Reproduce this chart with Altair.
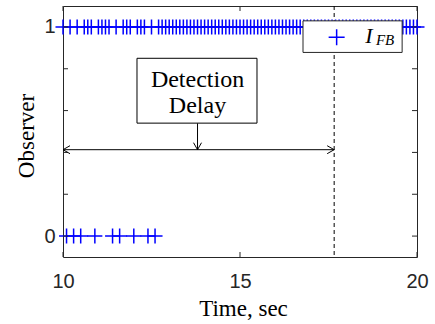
import altair as alt
import pandas as pd

# ---------------- data ----------------
T_START = 10.0          # first sample, sec
T_STEP = 0.1            # sampling period, sec
# observer output, one row per second (10 samples each), plus the sample at t = 20
OBSERVER_ROWS = [
    "1010101110",   # 10.0 - 10.9
    "1111010111",   # 11.0 - 11.9
    "0111010111",   # 12.0 - 12.9
    "1111111111",   # 13
    "1111111111",   # 14
    "1111111111",   # 15
    "1111111111",   # 16
    "1111111111",   # 17
    "1111111111",   # 18
    "1111111111",   # 19
    "1",            # 20.0
]
observer = [int(c) for c in "".join(OBSERVER_ROWS)]
times = [round(T_START + T_STEP * i, 1) for i in range(len(observer))]

X_TICKS = [10, 15, 20]
X_LABELS = [10, 15, 20]
Y_TICKS = [0, 0.2, 0.4, 0.6, 0.8, 1.0]
Y_LABELS = [0, 1]
X_DOMAIN = [10, 20]
Y_DOMAIN = [-0.1, 1.1]

DETECT_TIME = 17.66     # dashed line
ARROW_Y = 0.413         # double arrow level
BOX_ARROW_X = 13.8      # down arrow from the text box
BOX_X = [12.09, 15.48]
BOX_Y = [0.54, 0.85]
BOX_TEXT = ["Detection", "Delay"]
BOX_TEXT_Y = [0.714, 0.588]
LEG_X = [16.78, 19.58]
LEG_Y = [0.878, 1.029]
LEG_MARK = [17.73, 0.951]
LEG_I = [18.54, 0.924]
LEG_SUB = [18.84, 0.913]

# ---------------- styling ----------------
W, H = 354, 251
PAD_L, PAD_T = 63, 6
AX = "#262626"
BLUE = "#0000ff"
SANS = "Liberation Sans"
SERIF = "Liberation Serif"
PLUS = "M-1,0L1,0M0,-1L0,1"

xs = alt.Scale(domain=X_DOMAIN, nice=False, zero=False)
ys = alt.Scale(domain=Y_DOMAIN, nice=False, zero=False)

x_axis = alt.Axis(
    values=X_LABELS, ticks=False, domain=False, grid=False, format="d",
    labelFlush=False, labelOverlap=False,
    labelFont=SANS, labelFontSize=20, labelColor=AX, labelPadding=14,
    title="Time, sec", titleFont=SERIF, titleFontSize=23,
    titleFontWeight="normal", titleColor="#000000",
    titleX=W / 2 + 3, titleY=58, titleBaseline="alphabetic")
y_axis = alt.Axis(
    values=Y_LABELS, ticks=False, domain=False, grid=False, format="d",
    labelFlush=False, labelOverlap=False,
    labelFont=SANS, labelFontSize=20, labelColor=AX, labelPadding=8,
    title="Observer", titleFont=SERIF, titleFontSize=23,
    titleFontWeight="normal", titleColor="#000000",
    titleAngle=-90, titleX=-30, titleY=H / 2 + 4,
    titleBaseline="alphabetic", titleAlign="center")


def X(field):
    return alt.X(field, scale=xs, axis=x_axis)


def Y(field):
    return alt.Y(field, scale=ys, axis=y_axis)


df = pd.DataFrame({"t": times, "obs": observer})

points = alt.Chart(df).mark_point(
    shape=PLUS, filled=False, color=BLUE, strokeWidth=1.5, size=225,
    opacity=1, clip=False
).encode(x=X("t:Q"), y=Y("obs:Q"))

dashed = alt.Chart(pd.DataFrame({"t": [DETECT_TIME]})).mark_rule(
    color="#000000", strokeWidth=1, strokeDash=[4, 3]
).encode(x=X("t:Q"))

harrow = alt.Chart(pd.DataFrame({"a": [X_DOMAIN[0]], "b": [DETECT_TIME], "y": [ARROW_Y]})).mark_rule(
    color="#000000", strokeWidth=1
).encode(x=X("a:Q"), x2="b:Q", y=Y("y:Q"))

varrow = alt.Chart(pd.DataFrame({"x": [BOX_ARROW_X], "a": [BOX_Y[0]], "b": [ARROW_Y]})).mark_rule(
    color="#000000", strokeWidth=1
).encode(x=X("x:Q"), y=Y("a:Q"), y2="b:Q")


def head(x, y, shape):
    return alt.Chart(pd.DataFrame({"x": [x], "y": [y]})).mark_point(
        shape=shape, filled=False, color="#000000", strokeWidth=1,
        size=196, opacity=1, clip=False
    ).encode(x=X("x:Q"), y=Y("y:Q"))


head_l = head(X_DOMAIN[0], ARROW_Y, "M1,-0.57L0,0L1,0.57")
head_r = head(DETECT_TIME, ARROW_Y, "M-1,-0.57L0,0L-1,0.57")
head_d = head(BOX_ARROW_X, ARROW_Y, "M-0.57,-1L0,0L0.57,-1")

box = alt.Chart(pd.DataFrame({"x": [BOX_X[0]], "x2": [BOX_X[1]], "y": [BOX_Y[0]], "y2": [BOX_Y[1]]})).mark_rect(
    fill="#ffffff", stroke="#000000", strokeWidth=1
).encode(x=X("x:Q"), x2="x2:Q", y=Y("y:Q"), y2="y2:Q")

box_text = alt.Chart(pd.DataFrame({"x": [BOX_ARROW_X] * 2, "y": BOX_TEXT_Y, "s": BOX_TEXT})).mark_text(
    font=SERIF, fontSize=24, color="#000000", align="center", baseline="alphabetic"
).encode(x=X("x:Q"), y=Y("y:Q"), text="s:N")

leg_box = alt.Chart(pd.DataFrame({"x": [LEG_X[0]], "x2": [LEG_X[1]], "y": [LEG_Y[0]], "y2": [LEG_Y[1]]})).mark_rect(
    fill="#ffffff", stroke=AX, strokeWidth=1
).encode(x=X("x:Q"), x2="x2:Q", y=Y("y:Q"), y2="y2:Q")

leg_mark = alt.Chart(pd.DataFrame({"x": [LEG_MARK[0]], "y": [LEG_MARK[1]]})).mark_point(
    shape=PLUS, filled=False, color=BLUE, strokeWidth=1.5, size=256, opacity=1
).encode(x=X("x:Q"), y=Y("y:Q"))

leg_i = alt.Chart(pd.DataFrame({"x": [LEG_I[0]], "y": [LEG_I[1]], "s": ["I"]})).mark_text(
    font=SERIF, fontSize=22, fontStyle="italic", color="#000000", align="left", baseline="alphabetic"
).encode(x=X("x:Q"), y=Y("y:Q"), text="s:N")

leg_sub = alt.Chart(pd.DataFrame({"x": [LEG_SUB[0]], "y": [LEG_SUB[1]], "s": ["FB"]})).mark_text(
    font=SERIF, fontSize=15, fontStyle="italic", color="#000000", align="left", baseline="alphabetic"
).encode(x=X("x:Q"), y=Y("y:Q"), text="s:N")

# inward ticks on all four sides
xt = pd.DataFrame({"v": X_TICKS})
yt = pd.DataFrame({"v": Y_TICKS})
tick_style = dict(color=AX, strokeWidth=1)
xt_bot = alt.Chart(xt).mark_rule(**tick_style).encode(
    x=X("v:Q"), y=alt.value(H), y2=alt.value(H - 5))
xt_top = alt.Chart(xt).mark_rule(**tick_style).encode(
    x=X("v:Q"), y=alt.value(0), y2=alt.value(5))
yt_left = alt.Chart(yt).mark_rule(**tick_style).encode(
    y=Y("v:Q"), x=alt.value(0), x2=alt.value(5))
yt_right = alt.Chart(yt).mark_rule(**tick_style).encode(
    y=Y("v:Q"), x=alt.value(W), x2=alt.value(W - 5))

chart = alt.layer(
    points, xt_bot, xt_top, yt_left, yt_right,
    dashed, harrow, varrow, head_l, head_r, head_d,
    box, box_text, leg_box, leg_mark, leg_i, leg_sub,
).properties(
    width=W, height=H,
    autosize=alt.AutoSizeParams(type="none"),
    padding={"left": PAD_L, "top": PAD_T, "right": 435 - PAD_L - W, "bottom": 324 - PAD_T - H},
    background="#ffffff",
).configure_view(stroke=AX, strokeWidth=1)

chart.save("out.html", embed_options={"renderer": "svg", "actions": False})
